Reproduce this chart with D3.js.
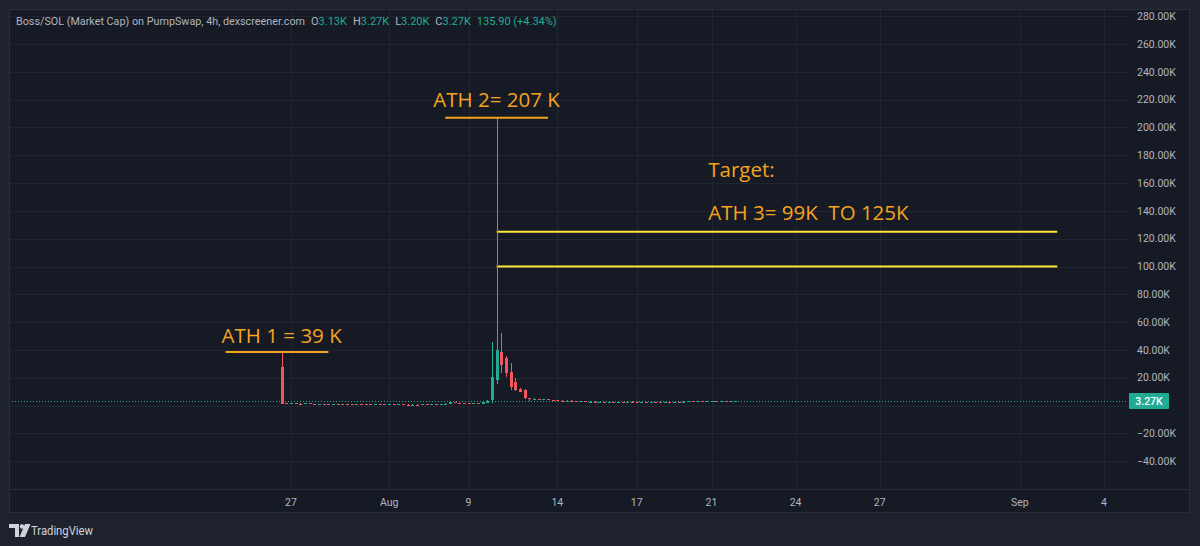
<!DOCTYPE html>
<html><head><meta charset="utf-8">
<script src="https://cdn.jsdelivr.net/npm/d3@7"></script>
<style>html,body{margin:0;padding:0;background:#1e222d;overflow:hidden} svg{display:block}</style>
</head><body><svg id="c" width="1200" height="546"></svg>
<script>
// ---------- DATA (market cap, thousands USD; one entry per 4h bar) ----------
const openK  = [27.8,1.5,1.3,1.6,1.4,1.2,1.5,1.3,1.1,1.3,1.2,1.0,1.2,1.1,1.3,1.0,0.9,1.1,1.0,0.9,0.8,1.0,0.9,0.7,0.8,0.6,0.8,0.7,0.5,0.7,0.6,0.8,0.7,0.9,0.8,1.0,1.4,2.6,2.0,1.7,1.5,1.4,1.6,1.3,2.4,3.9,18.3,38.6,33.9,24.2,17.0,12.2,11.1,5.1,4.4,4.9,4.3,4.6,4.0,3.8,3.6,3.4,3.6,3.2,3.0,3.1,2.8,2.9,2.6,2.7,2.5,2.6,2.3,2.4,2.2,2.9,2.7,2.6,2.8,2.5,2.7,2.4,2.3,2.6,2.5,2.8,2.7,2.9,3.1,2.9,3.0,2.8,3.1,3.3,3.1,3.2,3.0,3.13];
const highK  = [38.5,1.8,1.8,1.7,1.5,1.6,1.6,1.4,1.4,1.4,1.3,1.3,1.3,1.4,1.4,1.1,1.2,1.2,1.1,1.0,1.1,1.1,1.0,0.9,0.9,0.9,0.9,0.8,0.8,0.8,0.9,0.9,1.0,1.0,1.1,1.6,3.2,2.8,2.1,1.8,1.6,1.8,1.7,2.6,3.9,45.8,207.0,52.0,35.6,30.3,19.5,12.8,12.0,5.8,5.2,5.0,4.8,4.7,4.2,3.9,3.7,3.8,3.7,3.3,3.3,3.2,3.0,3.0,2.8,2.8,2.7,2.7,2.5,2.5,3.0,3.0,2.8,2.9,2.9,2.8,2.8,2.5,2.7,2.7,2.9,2.9,3.0,3.2,3.2,3.1,3.1,3.2,3.4,3.4,3.3,3.3,3.2,3.27];
const lowK   = [1.2,1.2,1.2,1.3,1.1,1.1,1.2,1.0,1.0,1.1,0.9,0.9,1.0,1.0,0.9,0.8,0.8,0.9,0.8,0.7,0.7,0.8,0.6,0.6,0.5,0.5,0.6,0.4,0.4,0.5,0.5,0.6,0.6,0.7,0.7,0.9,1.3,1.8,1.6,1.4,1.3,1.3,1.2,1.2,2.2,1.7,16.0,23.0,20.6,11.1,9.9,9.9,4.5,3.9,4.2,4.1,4.1,3.8,3.6,3.4,3.3,3.3,3.1,2.9,2.9,2.7,2.7,2.5,2.5,2.4,2.4,2.2,2.2,2.1,2.1,2.6,2.5,2.5,2.4,2.4,2.3,2.2,2.2,2.4,2.4,2.6,2.6,2.8,2.8,2.8,2.7,2.7,3.0,3.0,3.0,2.9,2.9,3.10];
const closeK = [1.5,1.3,1.6,1.4,1.2,1.5,1.3,1.1,1.3,1.2,1.0,1.2,1.1,1.3,1.0,0.9,1.1,1.0,0.9,0.8,1.0,0.9,0.7,0.8,0.6,0.8,0.7,0.5,0.7,0.6,0.8,0.7,0.9,0.8,1.0,1.4,2.6,2.0,1.7,1.5,1.4,1.6,1.3,2.4,3.6,20.2,39.9,29.0,23.1,13.5,11.0,10.4,5.1,4.4,4.9,4.3,4.6,4.0,3.8,3.6,3.4,3.6,3.2,3.0,3.1,2.8,2.9,2.6,2.7,2.5,2.6,2.3,2.4,2.2,2.9,2.7,2.6,2.8,2.5,2.7,2.4,2.3,2.6,2.5,2.8,2.7,2.9,3.1,2.9,3.0,2.8,3.1,3.3,3.1,3.2,3.0,3.13,3.27];

const timeTickLabels = ["27","Aug","9","14","17","21","24","27","Sep","4"];
const timeTickBars   = [2,23,40,59,76,92,110,128,158,176];
const priceTicksK    = [-40,-20,0,20,40,60,80,100,120,140,160,180,200,220,240,260,280];

const lastPriceK = 3.27;
const headerTitle = "Boss/SOL (Market Cap) on PumpSwap, 4h, dexscreener.com";
const ohlcKeys   = ["O","H","L","C"];
const ohlcValues = ["3.13K","3.27K","3.20K","3.27K"];
const changeText = "135.90 (+4.34%)";

// target zone (horizontal lines) in data units
const targetLevelsK = [125, 100];
const targetFromBar = 46, targetToBar = 166;

// annotation texts anchored in data units (bar index, value K)
const annoTexts  = ["ATH 1 = 39 K","ATH 2= 207 K","Target:","ATH 3= 99K  TO 125K"];
const annoBars   = [0, 46, 91.3, 91.3];
const annoValues = [44.9, 214.7, 164.3, 133.4];
const annoAnchor = ["middle","middle","start","start"];
// underlines: value, from bar, to bar
const underlineValues = [38.5, 207];
const underlineFrom   = [-12, 35];
const underlineTo     = [10, 57];

// ---------- LAYOUT ----------
const svg = d3.select("#c");
const W = 1200, H = 546;
const paneL = 9, paneT = 9, paneR = 1190, paneB = 513;
const plotR = 1128, plotB = 489;

const x = d3.scaleLinear().domain([2,176]).range([291,1104]);
const y = d3.scaleLinear().domain([-60, 285.2]).range([plotB, paneT]);

const UP = "#22ab94", DOWN = "#f7525f", UPWICK = "#1fb89c";
const ORANGE = "#f5a21e";
const TXT = "#b2b5be";

svg.append("rect").attr("width",W).attr("height",H).attr("fill","#1e222d");
svg.append("rect").attr("x",paneL+0.5).attr("y",paneT+0.5).attr("width",paneR-paneL-1).attr("height",paneB-paneT-1)
  .attr("fill","#161a25").attr("stroke","#2a2e39");

svg.append("clipPath").attr("id","plotclip").append("rect")
  .attr("x",paneL+1).attr("y",paneT+1).attr("width",plotR-paneL-1).attr("height",plotB-paneT-1);

const plot = svg.append("g").attr("clip-path","url(#plotclip)");

// grid
plot.selectAll(".vg").data(timeTickBars).join("line")
  .attr("x1",d=>Math.round(x(d))+0.5).attr("x2",d=>Math.round(x(d))+0.5)
  .attr("y1",paneT).attr("y2",plotB).attr("stroke","#21252f");
plot.selectAll(".hg").data(priceTicksK).join("line")
  .attr("y1",d=>Math.round(y(d))+0.5).attr("y2",d=>Math.round(y(d))+0.5)
  .attr("x1",paneL).attr("x2",plotR).attr("stroke","#21252f");

// separator between plot and time axis
svg.append("line").attr("x1",paneL).attr("x2",paneR).attr("y1",plotB+0.5).attr("y2",plotB+0.5).attr("stroke","#2a2e39");

// last price dotted line
plot.append("line").attr("x1",paneL).attr("x2",plotR)
  .attr("y1",Math.round(y(lastPriceK))+0.5).attr("y2",Math.round(y(lastPriceK))+0.5)
  .attr("stroke",UP).attr("stroke-width",1).attr("stroke-dasharray","1,2");

// target lines
plot.selectAll(".tl").data(targetLevelsK).join("line")
  .attr("x1",x(targetFromBar)).attr("x2",x(targetToBar))
  .attr("y1",d=>y(d)).attr("y2",d=>y(d))
  .attr("stroke","#ffe83b").attr("stroke-width",2);

// candles
const bars = d3.range(closeK.length);
const cg = plot.append("g").attr("shape-rendering","crispEdges");
cg.selectAll(".wick").data(bars).join("rect")
  .attr("x",i=>Math.round(x(i)))
  .attr("width",1)
  .attr("y",i=>Math.round(y(highK[i])))
  .attr("height",i=>Math.max(1,Math.round(y(lowK[i])-y(highK[i]))))
  .attr("fill",i=>closeK[i]>=openK[i]?UPWICK:DOWN);
cg.selectAll(".body").data(bars).join("rect")
  .attr("x",i=>Math.round(x(i))-1)
  .attr("width",3)
  .attr("y",i=>Math.round(Math.min(y(openK[i]),y(closeK[i]))))
  .attr("height",i=>Math.max(1,Math.round(Math.abs(y(openK[i])-y(closeK[i])))))
  .attr("fill",i=>closeK[i]>=openK[i]?UP:DOWN);

// underlines
plot.selectAll(".ul").data(underlineValues).join("line")
  .attr("x1",(d,i)=>x(underlineFrom[i])).attr("x2",(d,i)=>x(underlineTo[i]))
  .attr("y1",d=>y(d)).attr("y2",d=>y(d))
  .attr("stroke",ORANGE).attr("stroke-width",2);

// annotation texts
plot.selectAll(".an").data(annoTexts).join("text")
  .attr("x",(d,i)=>x(annoBars[i])).attr("y",(d,i)=>y(annoValues[i]))
  .attr("text-anchor",(d,i)=>annoAnchor[i])
  .attr("fill",ORANGE).attr("font-family","'Open Sans', sans-serif").attr("font-size",20.5)
  .style("white-space","pre").attr("xml:space","preserve")
  .text(d=>d);

// price axis labels (the 0 level is hidden behind the last-price badge)
const fmt = v => d3.format(".2f")(v) + "K";
svg.selectAll(".pl").data(priceTicksK.filter(v=>Math.abs(y(v)-y(lastPriceK))>12)).join("text")
  .attr("x",1137).attr("y",d=>y(d)).attr("dy","0.35em")
  .attr("fill",TXT).attr("font-family","Roboto, sans-serif").attr("font-size",10.5)
  .text(fmt);

// last price badge
const by = Math.round(y(lastPriceK));
svg.append("rect").attr("x",1129).attr("y",by-8).attr("width",40).attr("height",16).attr("rx",1).attr("fill",UP);
svg.append("text").attr("x",1149).attr("y",by).attr("dy","0.35em").attr("text-anchor","middle")
  .attr("fill","#ffffff").attr("font-family","Roboto, sans-serif").attr("font-size",10.5).attr("font-weight",500)
  .text(lastPriceK.toFixed(2)+"K");

// time axis labels
svg.selectAll(".tlab").data(timeTickLabels).join("text")
  .attr("x",(d,i)=>x(timeTickBars[i])).attr("y",502).attr("dy","0.35em").attr("text-anchor","middle")
  .attr("fill",TXT).attr("font-family","Roboto, sans-serif").attr("font-size",10.5)
  .text(d=>d);

// header legend
const ht = svg.append("text").attr("x",16).attr("y",25).attr("font-family","Roboto, sans-serif").attr("font-size",11)
  .attr("fill",TXT).attr("xml:space","preserve");
ht.append("tspan").attr("textLength",289).attr("lengthAdjust","spacingAndGlyphs").text(headerTitle);
ohlcKeys.forEach((k,i)=>{
  ht.append("tspan").attr("dx",6).text(k);
  ht.append("tspan").attr("fill",UP).text(ohlcValues[i]);
});
ht.append("tspan").attr("dx",6).attr("fill",UP).text(changeText);

// TradingView logo
const lg = svg.append("g").attr("fill","#d1d4dc");
lg.append("path").attr("d","M9 524 H19 V537 H15 V528 H9 Z");
lg.append("circle").attr("cx",22).attr("cy",526.5).attr("r",2.2);
lg.append("path").attr("d","M25 524 H30.5 L25 537 H19.5 Z");
svg.append("text").attr("x",31).attr("y",535).attr("fill","#d1d4dc")
  .attr("font-family","Roboto, sans-serif").attr("font-size",12.5)
  .attr("textLength",62).attr("lengthAdjust","spacingAndGlyphs").text("TradingView");
</script>
</body></html>
